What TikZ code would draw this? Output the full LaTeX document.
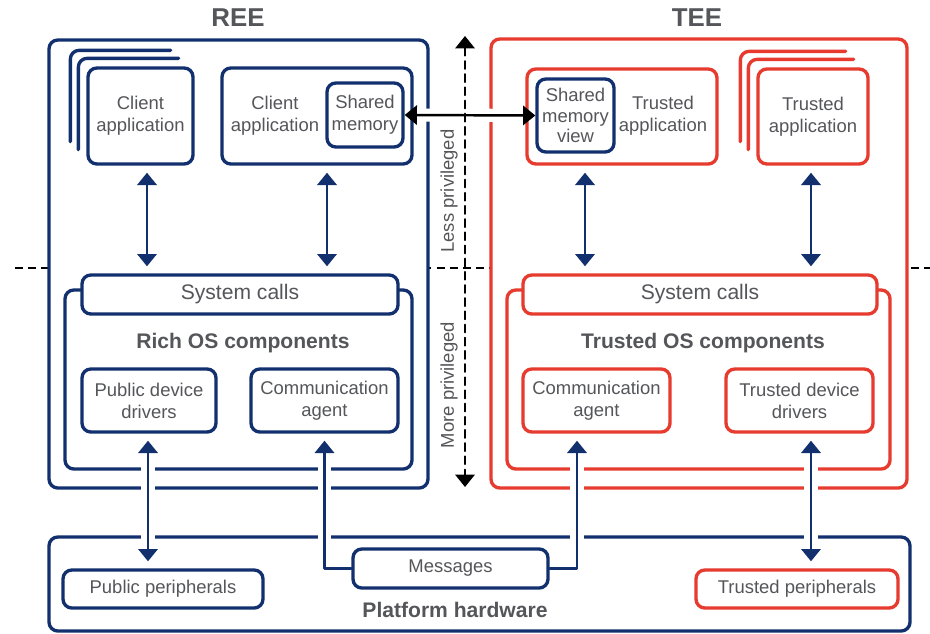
\documentclass[tikz,border=0pt]{standalone}
\usepackage{fontspec}
\setmainfont{Liberation Sans}
\usetikzlibrary{arrows.meta}
\definecolor{reeblue}{HTML}{12306E}
\definecolor{teered}{HTML}{E63B2E}
\definecolor{txtgray}{HTML}{55565A}
\begin{document}
\begin{tikzpicture}[x=0.02cm, y=-0.02cm, line join=round, line cap=round,
 font=\fontsize{10.5}{12.5}\selectfont, text=txtgray,
 >={Triangle[width=11pt,length=7pt]},
 wh/.style 2 args={minimum width=#1*0.02cm, minimum height=#2*0.02cm},
 box/.style={draw=reeblue, line width=1.9pt, rounded corners=5pt, fill=white, align=center, inner sep=0pt},
 rbox/.style={box, draw=teered},
 lbl/.style={align=center},
 head/.style={font=\bfseries\fontsize{12}{14}\selectfont},
 title/.style={font=\bfseries\fontsize{14.7}{17}\selectfont},
 conn/.style={color=reeblue, line width=1.4pt, <->, shorten <=4pt, shorten >=4pt},
 halo/.style={preaction={draw=white, -, line width=7.5pt, shorten <=8pt, shorten >=8pt}},
 dash line/.style={black, line width=1.1pt, dash pattern=on 4.5pt off 3pt}]
 \useasboundingbox (0,0) rectangle (930,633);
 \coordinate (dl) at (15,268); \coordinate (dr) at (930,268);
 \draw[dash line, line cap=butt] (dl) -- (dr);
 % the two worlds
 \node[box, wh={379}{448}] (ree) at (238.5,264) {};
 \node[rbox, wh={416}{449}] (tee) at (699,263.5) {};
 \node[title] (reet) at (238,18) {REE};
 \node[title] (teet) at (697,18) {TEE};
 % applications
 \node[box, wh={105}{96}] (capp1) at (140.5,116) {Client\\application};
 \node[box, wh={190}{96}] (capp2) at (317,116) {};
 \node[lbl] (capp2t) at (275,116) {Client\\application};
 \node[box, wh={76}{64}] (shm) at (365,115) {Shared\\memory};
 \node[rbox, wh={190}{95}] (tapp1) at (622,116.5) {};
 \node[lbl] (tapp1t) at (663,116) {Trusted\\application};
 \node[box, wh={77}{73}, font=\fontsize{10.5}{11.5}\selectfont] (shmv) at (575.5,115.5) {Shared\\memory\\view};
 \node[rbox, wh={110}{95}] (tapp2) at (813,116.5) {Trusted\\application};
 \foreach \d in {1,2} {
 \draw[reeblue, line width=1.9pt, rounded corners=5pt] ([shift={(-8*\d,-8-8*\d)}]capp1.south west) |- ([shift={(-8-8*\d,-8*\d)}]capp1.north east);
 \draw[teered, line width=1.9pt, rounded corners=5pt] ([shift={(-8*\d,-8-8*\d)}]tapp2.south west) |- ([shift={(-8-8*\d,-8*\d)}]tapp2.north east);
 }
 % operating systems
 \node[box, wh={347}{179}] (richos) at (238.5,379.5) {};
 \node[rbox, wh={383}{179}] (trustos) at (698.5,379.5) {};
 \node[box, wh={316}{39}, font=\fontsize{12}{14}\selectfont] (sysr) at (240,294.5) {System calls};
 \node[rbox, wh={354}{39}, font=\fontsize{12}{14}\selectfont] (syst) at (700,294.5) {System calls};
 \node[head] (richt) at (243,343) {Rich OS components};
 \node[head] (trustt) at (703,343) {Trusted OS components};
 \node[box, wh={134}{63}] (pdd) at (149,400.5) {Public device\\drivers};
 \node[box, wh={147}{63}] (cagr) at (324.5,400.5) {Communication\\agent};
 \node[rbox, wh={147}{63}] (cagt) at (596.5,400.5) {Communication\\agent};
 \node[rbox, wh={147}{63}] (tdd) at (799.5,400.5) {Trusted device\\drivers};
 % hardware
 \node[box, wh={861}{94}] (hw) at (479.5,584) {};
 \node[head] (hwt) at (455,610) {Platform hardware};
 \node[box, wh={195}{39}] (msg) at (450.5,568.5) {Messages};
 \node[box, wh={200}{38}] (pp) at (163,589) {Public peripherals};
 \node[rbox, wh={202}{38}] (tp) at (797,589) {Trusted peripherals};
 % privilege
 \coordinate (ptop) at (465,36); \coordinate (pbot) at (465,487);
 \node[rotate=90] (less) at (449,191) {Less privileged};
 \node[rotate=90] (more) at (449,385) {More privileged};
 % links
 \foreach \a/\b/\x in {capp1/sysr/147, capp2/sysr/327, tapp1/syst/585, tapp2/syst/811}
 \draw[conn] (\a.south -| \x,0) -- (\b.north -| \x,0);
 \draw[conn, halo] (pdd.south -| 148,0) -- (pp.north -| 148,0);
 \draw[conn, halo] (tdd.south -| 811,0) -- (tp.north -| 811,0);
 \draw[conn, ->, halo, shorten <=0pt] (msg.west) -| (cagr.south);
 \draw[conn, ->, halo, shorten <=0pt] (msg.east) -| (cagt.south -| 577,0);
 \draw[halo, black, line width=1.4pt, <->] (shm.east) -- (shmv.west);
 \draw[dash line, <->] (ptop) -- (pbot);
\end{tikzpicture}
\end{document}
